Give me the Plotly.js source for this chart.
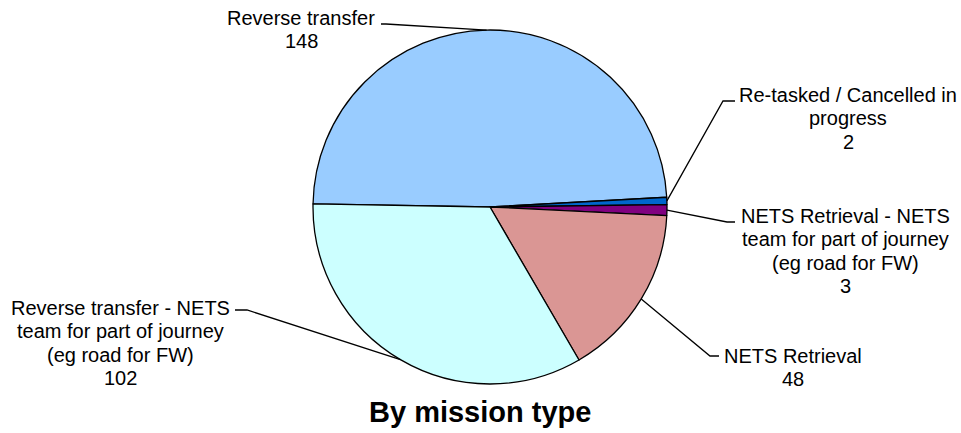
<!DOCTYPE html>
<html>
<head>
<meta charset="utf-8">
<script src="https://cdn.plot.ly/plotly-3.0.1.min.js"></script>
<style>html,body{margin:0;padding:0;background:#fff;}#chart{width:961px;height:433px;}</style>
</head>
<body>
<div id="chart"></div>
<script>
// ---- data ----
var categories = [
  "Reverse transfer",
  "Re-tasked / Cancelled in progress",
  "NETS Retrieval - NETS team for part of journey (eg road for FW)",
  "NETS Retrieval",
  "Reverse transfer - NETS team for part of journey (eg road for FW)"
];
var values = [148, 2, 3, 48, 102];
var colors = ["#99CCFF", "#0066CC", "#800080", "#DA9694", "#CCFFFF"];
var chartTitle = "By mission type";

// label text wrapped as in the reference
var labelLines = [
  ["Reverse transfer"],
  ["Re-tasked / Cancelled in", "progress"],
  ["NETS Retrieval - NETS", "team for part of journey", "(eg road for FW)"],
  ["NETS Retrieval"],
  ["Reverse transfer - NETS", "team for part of journey", "(eg road for FW)"]
];

// ---- layout geometry (pixels) ----
var W = 961, H = 433;
var cx = 490, cy = 207, R = 177;
var rotation = 271;
// label placement: centre x, first line y, elbow point, stub end
var labelPos = [
  {x: 301, y: 18, elbow: [386, 24], stub: [381, 24]},
  {x: 848, y: 95, elbow: [723, 101], stub: [735, 101]},
  {x: 845, y: 216, elbow: [727, 222], stub: [735, 222]},
  {x: 793, y: 356, elbow: [710, 356], stub: [719, 356]},
  {x: 120, y: 308, elbow: [247, 310], stub: [235, 310]}
];
var lineGap = 23.3;
var fontFam = "Liberation Sans, Arial, sans-serif";

function px(x) { return x / W; }
function py(y) { return 1 - y / H; }

var total = values.reduce(function (a, b) { return a + b; }, 0);
var annotations = [];
var shapes = [];
var acc = 0;
for (var i = 0; i < values.length; i++) {
  var mid = rotation + (acc + values[i] / 2) / total * 360;
  acc += values[i];
  var a = mid * Math.PI / 180;
  var ex = cx + R * Math.sin(a), ey = cy - R * Math.cos(a);
  var lp = labelPos[i];
  shapes.push({
    type: "path", xref: "paper", yref: "paper",
    path: "M" + px(ex) + "," + py(ey) + " L" + px(lp.elbow[0]) + "," + py(lp.elbow[1]) +
          " L" + px(lp.stub[0]) + "," + py(lp.stub[1]),
    line: {color: "#000", width: 1.3}
  });
  var lines = labelLines[i].concat([String(values[i])]);
  for (var j = 0; j < lines.length; j++) {
    annotations.push({
      xref: "paper", yref: "paper", x: px(lp.x), y: py(lp.y + j * lineGap),
      xanchor: "center", yanchor: "middle", showarrow: false,
      text: lines[j], font: {family: fontFam, size: 20, color: "#000"}
    });
  }
}
annotations.push({
  xref: "paper", yref: "paper", x: px(480), y: py(412),
  xanchor: "center", yanchor: "middle", showarrow: false,
  text: "<b>" + chartTitle + "</b>", font: {family: fontFam, size: 29, color: "#000"}
});

var trace = {
  type: "pie",
  labels: categories,
  values: values,
  marker: {colors: colors, line: {color: "#000", width: 1.3}},
  sort: false,
  direction: "clockwise",
  rotation: rotation,
  textinfo: "none",
  hoverinfo: "label+value",
  domain: {x: [px(cx - R), px(cx + R)], y: [py(cy + R), py(cy - R)]},
  showlegend: false
};

var layout = {
  width: W, height: H,
  margin: {l: 0, r: 0, t: 0, b: 0},
  paper_bgcolor: "#fff",
  plot_bgcolor: "#fff",
  showlegend: false,
  annotations: annotations,
  shapes: shapes
};

Plotly.newPlot("chart", [trace], layout, {displayModeBar: false, staticPlot: true});
</script>
</body>
</html>
